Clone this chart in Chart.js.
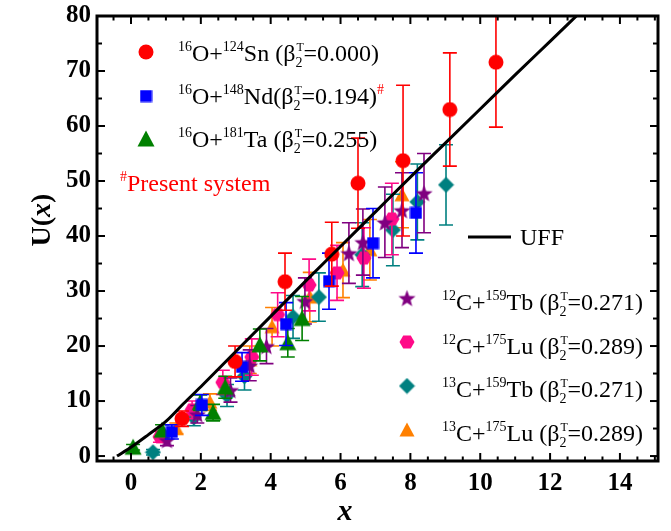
<!DOCTYPE html>
<html><head><meta charset="utf-8">
<script src="https://cdn.jsdelivr.net/npm/chart.js@4.4.1/dist/chart.umd.min.js"></script>
<style>html,body{margin:0;padding:0;background:#fff}</style>
</head><body>
<canvas id="c" width="671" height="531"></canvas>
<script>
// ---- tick labels ----
const xTickLabels = [0, 2, 4, 6, 8, 10, 12, 14];
const yTickLabels = [0, 10, 20, 30, 40, 50, 60, 70, 80];

// ---- 16O+124Sn ----
const snX   = [1.46, 2.98, 4.41, 5.75, 6.50, 7.79, 9.13, 10.45];
const snY   = [6.8, 17.2, 31.7, 36.7, 49.6, 53.7, 63.0, 71.6];
const snErr = [1.4, 2.8, 5.2, 5.8, 8.2, 13.7, 10.3, 11.8];
// ---- 16O+148Nd ----
const ndX   = [1.17, 2.03, 3.18, 4.44, 5.67, 6.93, 8.16];
const ndY   = [4.4, 9.3, 16.2, 24.0, 31.8, 38.7, 44.2];
const ndErr = [1.3, 1.9, 2.6, 3.9, 5.1, 6.3, 7.3];
// ---- 16O+181Ta ----
const taX   = [0.06, 0.89, 1.98, 2.35, 2.70, 3.69, 4.49, 4.90];
const taY   = [1.6, 4.7, 9.7, 7.9, 12.5, 20.2, 20.6, 25.0];
const taErr = [0.5, 1.0, 1.4, 1.5, 2.0, 2.9, 2.6, 4.0];
// ---- 12C+159Tb ----
const c12TbX   = [1.03, 1.90, 2.85, 3.40, 3.88, 4.98, 6.24, 6.64, 7.27, 7.76, 8.39];
const c12TbY   = [2.9, 7.6, 12.0, 16.5, 20.0, 28.2, 36.9, 38.9, 42.5, 44.7, 47.8];
const c12TbErr = [1.0, 1.6, 2.2, 2.8, 3.2, 4.2, 5.5, 6.0, 6.4, 6.8, 7.2];
// ---- 12C+175Lu ----
const c12LuX   = [0.83, 1.75, 2.63, 3.46, 4.20, 5.10, 5.90, 6.67, 7.47];
const c12LuY   = [3.5, 8.4, 13.4, 18.0, 25.7, 31.1, 33.3, 36.0, 43.1];
const c12LuErr = [1.0, 1.6, 2.2, 3.3, 4.0, 4.7, 5.0, 5.5, 6.5];
// ---- 13C+159Tb ----
const c13TbX   = [0.63, 1.80, 2.75, 3.25, 4.64, 5.38, 6.62, 7.50, 8.20, 9.02];
const c13TbY   = [0.7, 7.0, 11.0, 14.5, 25.3, 28.9, 36.6, 41.1, 46.2, 49.3];
const c13TbErr = [0.5, 1.5, 2.0, 2.5, 3.9, 4.4, 5.8, 6.5, 6.9, 7.3];
// ---- 13C+175Lu ----
const c13LuX   = [1.30, 2.26, 3.40, 4.04, 5.12, 6.07, 6.84, 7.76];
const c13LuY   = [5.0, 9.8, 17.5, 23.5, 28.9, 33.8, 37.5, 47.5];
const c13LuErr = [1.0, 1.5, 2.5, 3.5, 4.5, 5.0, 5.5, 6.0];
// ---- UFF curve ----
const uffX = [-0.4, 0, 0.5, 1, 1.5, 2, 3, 4, 5, 6, 7, 8, 9, 10, 11, 12, 12.8];
const uffY = [0, 1.6, 3.9, 6.3, 9.5, 12.6, 19.0, 25.4, 31.8, 38.1, 44.4, 50.7, 56.9, 63.1, 69.3, 75.4, 80.3];

const COL = {red:'#ff0000', blue:'#0000ff', green:'#008000', purple:'#800080', pink:'#ff0a88', teal:'#008080', orange:'#ff8000'};

function marker(shape, color, s) {
  const c = document.createElement('canvas');
  c.width = s; c.height = s;
  const g = c.getContext('2d');
  g.fillStyle = color;
  const m = s / 2;
  g.beginPath();
  if (shape === 'circle') { g.arc(m, m, m - 0.5, 0, Math.PI * 2); }
  else if (shape === 'square') { g.rect(0.5, 0.5, s - 1, s - 1); }
  else if (shape === 'triangle') { g.moveTo(m, 0.5); g.lineTo(s - 0.5, s - 1.5); g.lineTo(0.5, s - 1.5); g.closePath(); }
  else if (shape === 'diamond') { g.moveTo(m, 0.5); g.lineTo(s - 0.5, m); g.lineTo(m, s - 0.5); g.lineTo(0.5, m); g.closePath(); }
  else if (shape === 'hexagon') {
    for (let i = 0; i < 6; i++) { const a = Math.PI / 3 * i; const px = m + (m - 0.5) * Math.cos(a), py = m + (m - 0.5) * Math.sin(a); i ? g.lineTo(px, py) : g.moveTo(px, py); }
    g.closePath();
  } else if (shape === 'star') {
    for (let i = 0; i < 10; i++) { const r = i % 2 ? (m - 0.5) * 0.42 : (m - 0.5); const a = -Math.PI / 2 + Math.PI / 5 * i; const px = m + r * Math.cos(a), py = m + 1 + r * Math.sin(a); i ? g.lineTo(px, py) : g.moveTo(px, py); }
    g.closePath();
  }
  g.fill();
  return c;
}
const MK = {
  sn: marker('circle', COL.red, 16),
  nd: marker('square', COL.blue, 13),
  ta: marker('triangle', COL.green, 18),
  c12Tb: marker('star', COL.purple, 19),
  c12Lu: marker('hexagon', COL.pink, 16),
  c13Tb: marker('diamond', COL.teal, 17),
  c13Lu: marker('triangle', COL.orange, 16)
};

function pts(xs, ys) { return xs.map((v, i) => ({x: v, y: ys[i]})); }
function ds(label, xs, ys, err, color, mk) {
  return {label, data: pts(xs, ys), errors: err, errColor: color, pointStyle: mk, pointRadius: 8, pointHoverRadius: 8, backgroundColor: color, borderColor: color, showLine: false, order: 1};
}

const errorBars = {
  id: 'errorBars',
  beforeDatasetDraw(chart, args) {
    const dset = chart.data.datasets[args.index];
    if (!dset.errors) return;
    const {ctx, chartArea: a, scales: {y}} = chart;
    ctx.save();
    ctx.beginPath(); ctx.rect(a.left, a.top, a.right - a.left, a.bottom - a.top); ctx.clip();
    ctx.strokeStyle = dset.errColor; ctx.lineWidth = 1.6;
    args.meta.data.forEach((el, i) => {
      const v = dset.data[i].y, e = dset.errors[i];
      const y1 = y.getPixelForValue(v + e), y2 = y.getPixelForValue(v - e), px = el.x;
      ctx.beginPath();
      ctx.moveTo(px, y1); ctx.lineTo(px, y2);
      ctx.moveTo(px - 7, y1); ctx.lineTo(px + 7, y1);
      ctx.moveTo(px - 7, y2); ctx.lineTo(px + 7, y2);
      ctx.stroke();
    });
    ctx.restore();
  }
};

const SERIF = '"Liberation Serif", "Times New Roman", serif';
function rich(ctx, x, y, parts, color) {
  ctx.fillStyle = color || '#000';
  ctx.textBaseline = 'alphabetic'; ctx.textAlign = 'left';
  for (const p of parts) {
    const [t, k, c] = p;
    ctx.fillStyle = c || color || '#000';
    if (k === 'n') { ctx.font = '24px ' + SERIF; ctx.fillText(t, x, y); x += ctx.measureText(t).width; }
    else if (k === 'sup') { ctx.font = '14px ' + SERIF; ctx.fillText(t, x, y - 10); x += ctx.measureText(t).width; }
    else if (k === 'subsup') {
      ctx.font = '14px ' + SERIF;
      const [sb, sp] = t;
      ctx.fillText(sb, x, y + 6); ctx.font = '12px ' + SERIF; ctx.fillText(sp, x + 1, y - 10);
      ctx.font = '14px ' + SERIF;
      x += Math.max(ctx.measureText(sb).width, 8);
    }
  }
  return x;
}

const deco = {
  id: 'deco',
  afterDraw(chart) {
    const {ctx, chartArea: a, scales: {x, y}} = chart;
    ctx.save();
    ctx.strokeStyle = '#000'; ctx.lineWidth = 2;
    const seg = (x1, y1, x2, y2) => { ctx.beginPath(); ctx.moveTo(x1, y1); ctx.lineTo(x2, y2); ctx.stroke(); };
    for (let k = -1; k <= 30; k++) {
      const v = k * 0.5; const px = x.getPixelForValue(v);
      if (px < a.left + 1 || px > a.right - 1) continue;
      const L = (k % 4 === 0) ? 8 : 4.5;
      seg(px, a.bottom, px, a.bottom - L); seg(px, a.top, px, a.top + L);
    }
    for (let v = 5; v < 80; v += 5) {
      const py = y.getPixelForValue(v); const L = v % 10 === 0 ? 8 : 5;
      seg(a.left, py, a.left + L, py); seg(a.right, py, a.right - L, py);
    }
    { const py = y.getPixelForValue(0); seg(a.left, py, a.left + 8, py); seg(a.right, py, a.right - 8, py); }
    ctx.lineWidth = 3;
    ctx.strokeRect(a.left, a.top, a.right - a.left, a.bottom - a.top);

    // axis titles
    ctx.fillStyle = '#000'; ctx.textBaseline = 'alphabetic'; ctx.textAlign = 'left';
    ctx.font = 'italic bold 30px ' + SERIF;
    const wx = ctx.measureText('x').width;
    ctx.fillText('x', 345 - wx / 2, 520);
    ctx.save();
    ctx.translate(50, 220); ctx.rotate(-Math.PI / 2);
    ctx.font = 'bold 28px ' + SERIF; const w1 = ctx.measureText('U(').width;
    ctx.font = 'italic bold 28px ' + SERIF; const w2 = ctx.measureText('x').width;
    ctx.font = 'bold 28px ' + SERIF; const w3 = ctx.measureText(')').width;
    let sx = -(w1 + w2 + w3) / 2;
    ctx.fillText('U(', sx, 0); sx += w1;
    ctx.font = 'italic bold 28px ' + SERIF; ctx.fillText('x', sx, 0); sx += w2;
    ctx.font = 'bold 28px ' + SERIF; ctx.fillText(')', sx, 0);
    ctx.restore();

    // legends
    const drawMk = (m, cx, cy) => ctx.drawImage(m, cx - m.width / 2, cy - m.height / 2);
    const B = [['2', 'T'], 'subsup'];
    drawMk(MK.sn, 146, 52);
    rich(ctx, 178, 61, [['16', 'sup'], ['O+', 'n'], ['124', 'sup'], ['Sn (β', 'n'], B, ['=0.000)', 'n']]);
    drawMk(MK.nd, 146, 96);
    rich(ctx, 178, 104, [['16', 'sup'], ['O+', 'n'], ['148', 'sup'], ['Nd(β', 'n'], B, ['=0.194)', 'n'], ['#', 'sup', COL.red]]);
    drawMk(MK.ta, 146, 139);
    rich(ctx, 178, 147, [['16', 'sup'], ['O+', 'n'], ['181', 'sup'], ['Ta (β', 'n'], B, ['=0.255)', 'n']]);
    rich(ctx, 120, 191, [['#', 'sup'], ['Present system', 'n']], COL.red);

    ctx.strokeStyle = '#000'; ctx.lineWidth = 3;
    seg(468, 237, 511, 237);
    ctx.fillStyle = '#000'; ctx.font = '24px ' + SERIF; ctx.fillText('UFF', 520, 245);

    drawMk(MK.c12Tb, 407, 298);
    rich(ctx, 442, 310, [['12', 'sup'], ['C+', 'n'], ['159', 'sup'], ['Tb (β', 'n'], B, ['=0.271)', 'n']]);
    drawMk(MK.c12Lu, 407, 342);
    rich(ctx, 442, 354, [['12', 'sup'], ['C+', 'n'], ['175', 'sup'], ['Lu (β', 'n'], B, ['=0.289)', 'n']]);
    drawMk(MK.c13Tb, 407, 386);
    rich(ctx, 442, 397, [['13', 'sup'], ['C+', 'n'], ['159', 'sup'], ['Tb (β', 'n'], B, ['=0.271)', 'n']]);
    drawMk(MK.c13Lu, 407, 430);
    rich(ctx, 442, 441, [['13', 'sup'], ['C+', 'n'], ['175', 'sup'], ['Lu (β', 'n'], B, ['=0.289)', 'n']]);
    ctx.restore();
  }
};

const tickFont = {family: SERIF, weight: 'bold', size: 25};
new Chart(document.getElementById('c'), {
  type: 'scatter',
  data: {
    datasets: [
      ds('16O+124Sn', snX, snY, snErr, COL.red, MK.sn),
      ds('16O+148Nd', ndX, ndY, ndErr, COL.blue, MK.nd),
      ds('16O+181Ta', taX, taY, taErr, COL.green, MK.ta),
      ds('12C+159Tb', c12TbX, c12TbY, c12TbErr, COL.purple, MK.c12Tb),
      ds('12C+175Lu', c12LuX, c12LuY, c12LuErr, COL.pink, MK.c12Lu),
      ds('13C+159Tb', c13TbX, c13TbY, c13TbErr, COL.teal, MK.c13Tb),
      ds('13C+175Lu', c13LuX, c13LuY, c13LuErr, COL.orange, MK.c13Lu),
      {label: 'UFF', data: pts(uffX, uffY), showLine: true, borderColor: '#000', borderWidth: 3, pointRadius: 0, cubicInterpolationMode: 'monotone', fill: false, order: 0}
    ]
  },
  options: {
    responsive: false, animation: false, devicePixelRatio: 1,
    layout: {padding: {top: 16, right: 13, left: 0, bottom: 0}},
    plugins: {legend: {display: false}, tooltip: {enabled: false}},
    scales: {
      x: {
        type: 'linear', min: -0.973, max: 15.09,
        afterBuildTicks: s => { s.ticks = xTickLabels.map(v => ({value: v})); },
        afterFit: s => { s.height = 70; },
        grid: {display: false}, border: {display: false},
        ticks: {font: tickFont, color: '#000', padding: 0, maxRotation: 0, autoSkip: false}
      },
      y: {
        type: 'linear', min: -0.9, max: 80,
        afterBuildTicks: s => { s.ticks = yTickLabels.map(v => ({value: v})); },
        afterFit: s => { s.width = 97; },
        grid: {display: false}, border: {display: false},
        ticks: {font: tickFont, color: '#000', padding: -2, autoSkip: false}
      }
    }
  },
  plugins: [errorBars, deco]
});
</script>
</body></html>
